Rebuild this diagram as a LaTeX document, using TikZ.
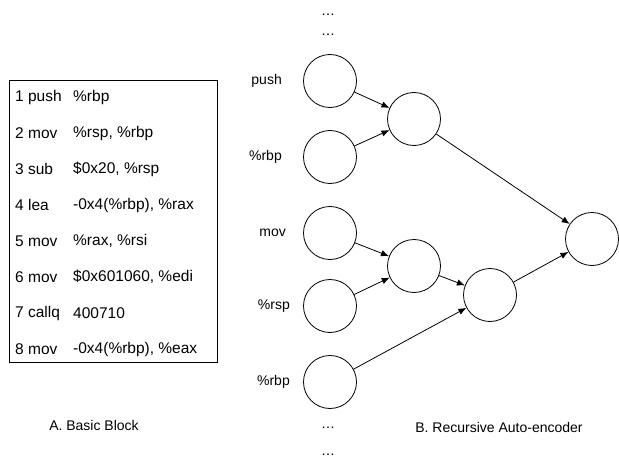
\documentclass[tikz,border=0pt]{standalone}
\usepackage{fontspec}
\setmainfont{Liberation Sans}
\usepackage{tikz}
\usetikzlibrary{positioning,arrows.meta}

\begin{document}
\begin{tikzpicture}[
  x=1pt, y=-1pt,
  txt/.style={inner sep=0pt, font=\fontsize{14}{16}\selectfont},
  code/.style={inner sep=0pt, anchor=west, font=\fontsize{15.5}{18}\selectfont},
  unit/.style={draw, circle, minimum size=53pt, inner sep=0pt, line width=0.8pt},
  arr/.style={-{Latex[length=8pt, width=6.5pt]}, line width=0.8pt}
]
  \useasboundingbox (0,0) rectangle (619,460);

  % Basic block
  \node[draw, line width=0.8pt, minimum width=208pt, minimum height=282pt, inner sep=0pt] (block) at (113,221) {};
  \node[code] (op1) at (15,97)  {1 push};
  \node[code] (op2) at (15,133) {2 mov};
  \node[code] (op3) at (15,169) {3 sub};
  \node[code] (op4) at (15,205) {4 lea};
  \node[code] (op5) at (15,241) {5 mov};
  \node[code] (op6) at (15,277) {6 mov};
  \node[code] (op7) at (15,313) {7 callq};
  \node[code] (op8) at (15,349) {8 mov};
  \node[code] (arg1) at (73,97)  {\%rbp};
  \node[code] (arg2) at (73,133) {\%rsp, \%rbp};
  \node[code] (arg3) at (73,169) {\$0x20, \%rsp};
  \node[code] (arg4) at (73,205) {-0x4(\%rbp), \%rax};
  \node[code] (arg5) at (73,241) {\%rax, \%rsi};
  \node[code] (arg6) at (73,277) {\$0x601060, \%edi};
  \node[code] (arg7) at (73,313) {400710};
  \node[code] (arg8) at (73,349) {-0x4(\%rbp), \%eax};
  \node[txt] (capA) at (94,425) {A. Basic Block};

  % Leaves
  \node[unit] (push) at (330,81)  {};
  \node[unit] (rbpa) at (330,157) {};
  \node[unit] (mov)  at (330,233) {};
  \node[unit] (rsp)  at (330,306) {};
  \node[unit] (rbpb) at (330,382) {};
  \node[txt, anchor=east] (lpush) at (282,81)  {push};
  \node[txt, anchor=east] (lrbpa) at (282,157) {\%rbp};
  \node[txt, anchor=east] (lmov)  at (286,233) {mov};
  \node[txt, anchor=east] (lrsp)  at (290,306) {\%rsp};
  \node[txt, anchor=east] (lrbpb) at (290,382) {\%rbp};

  % Inner nodes
  \node[unit] (h1) at (414,119) {};
  \node[unit] (h2) at (414,266) {};
  \node[unit] (h3) at (490,295) {};
  \node[unit] (root) at (592,239) {};

  % Dots
  \node[txt] (dt1) at (328,15)  {…};
  \node[txt] (dt2) at (328,35)  {…};
  \node[txt] (db1) at (328,428) {…};
  \node[txt] (db2) at (328,455) {…};
  \node[txt] (capB) at (499,427) {B. Recursive Auto-encoder};

  % Arrows
  \draw[arr] (push) -- (h1);
  \draw[arr] (rbpa) -- (h1);
  \draw[arr] (mov) -- (h2);
  \draw[arr] (rsp) -- (h2);
  \draw[arr] (h2) -- (h3);
  \draw[arr] (rbpb) -- (h3);
  \draw[arr] (h1) -- (root);
  \draw[arr] (h3) -- (root);
\end{tikzpicture}
\end{document}
